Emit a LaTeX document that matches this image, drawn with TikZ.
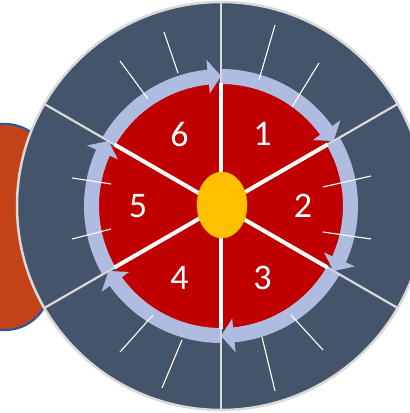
\documentclass[tikz,border=0pt]{standalone}
\usepackage{fontspec}
\setmainfont{Carlito}
\usetikzlibrary{shapes.geometric}
\definecolor{darkring}{HTML}{44546A}
\definecolor{redcore}{HTML}{C00000}
\definecolor{ringblue}{HTML}{AFBCDF}
\definecolor{sunyellow}{HTML}{FFC000}
\definecolor{sunedge}{HTML}{E8AE00}
\definecolor{sideorange}{HTML}{C4421A}
\definecolor{sideedge}{HTML}{2F5597}
\definecolor{sepgray}{HTML}{D9D9D9}
\begin{document}
\begin{tikzpicture}[x=1pt,y=1pt,
  numlabel/.style={text=white,font=\fontsize{36}{40}\selectfont,inner sep=0pt},
  tickline/.style={draw=white,line width=1.1pt},
  septhin/.style={draw=sepgray,line width=2.2pt},
  septhick/.style={draw=white,line width=4pt},
  arcband/.style={draw=ringblue,line width=15pt},
  arrowhead/.style={fill=ringblue},
  sidebox/.style={fill=sideorange,draw=sideedge,line width=2.2pt,rounded corners=45pt}]
\useasboundingbox (0,0) rectangle (410,413);
\coordinate (C) at (221,207);
% side shape
\draw[sidebox] (-60,83) rectangle (50,289);
% outer dark disk
\fill[darkring] (C) circle (204);
\draw[sepgray,line width=2.5pt] (C) circle (204);
% red core
\fill[redcore] (C) circle (123);
% thin separators
\foreach \a in {90,30,-30,-90,-150,150} \draw[septhin] (C) -- ++(\a:204);
% ring arrows
\foreach \s in {150,90,30,-30,-90,-150} {
  \draw[arcband] ([shift={(\s:129.5)}]C) arc[start angle=\s, end angle=\s-54.5, radius=129.5];
  \fill[arrowhead] ([shift={(\s-60:130)}]C) -- ([shift={(\s-54.3:113)}]C) -- ([shift={(\s-54.3:147)}]C) -- cycle;
}
% thin over ring
\foreach \a in {90,30,-30,-90,-150,150} \draw[sepgray,line width=1.6pt] ([shift={(\a:118)}]C) -- ++(\a:30);
% thick separators in the red core
\foreach \a in {90,30,-30,-90,-150,150} \draw[septhick] (C) -- ++(\a:123);
% ticks
\draw[tickline] (259,333) -- (275,388);
\draw[tickline] (292,306) -- (319,350);
\draw[tickline] (323,226) -- (371,237);
\draw[tickline] (323,181) -- (371,174);
\draw[tickline] (262,76) -- (275,22);
\draw[tickline] (291,98) -- (323,63);
\draw[tickline] (153,98) -- (120,61);
\draw[tickline] (182,73) -- (162,25);
\draw[tickline] (111,229) -- (72,235);
\draw[tickline] (111,184) -- (72,174);
\draw[tickline] (178,340) -- (164,381);
\draw[tickline] (148,314) -- (120,352);
% centre
\node[ellipse,fill=sunyellow,draw=sunedge,line width=0.6pt,minimum width=50pt,minimum height=66pt,inner sep=0pt] (sun) at ([shift={(1,1)}]C) {};
% numbers
\node[numlabel] (n1) at ([shift={(60:83)}]C) {1};
\node[numlabel] (n2) at ([shift={(0:82)}]C) {2};
\node[numlabel] (n3) at ([shift={(-60:83)}]C) {3};
\node[numlabel] (n4) at ([shift={(-120:83)}]C) {4};
\node[numlabel] (n5) at ([shift={(180:83)}]C) {5};
\node[numlabel] (n6) at ([shift={(120:83)}]C) {6};
\end{tikzpicture}
\end{document}
